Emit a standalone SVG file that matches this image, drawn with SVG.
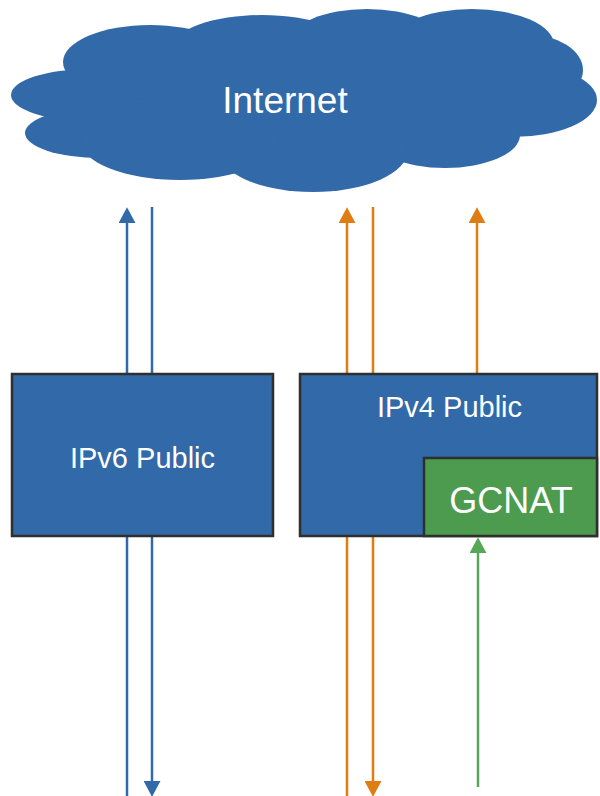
<svg xmlns="http://www.w3.org/2000/svg" width="600" height="796" viewBox="0 0 600 796">
  <style>
    .cloud { fill: #3169A9; }
    .box { fill: #3169A9; stroke: #2f2f2f; stroke-width: 2.5; }
    .nat { fill: #4C9B4E; stroke: #2f2f2f; stroke-width: 2.5; }
    .lbl { font-family: "Liberation Sans", Arial, sans-serif; fill: #ffffff; text-anchor: middle; }
    .blue { stroke: #3169A9; stroke-width: 2.5; fill: none; }
    .orange { stroke: #E07D12; stroke-width: 2.5; fill: none; }
    .green { stroke: #57A758; stroke-width: 2.5; fill: none; }
  </style>
  <defs>
    <marker id="ahBlue" markerUnits="userSpaceOnUse" markerWidth="17" markerHeight="17" viewBox="0 0 16 16" refX="1" refY="8" orient="auto">
      <path d="M0,0 L15,8 L0,16 Z" fill="#3169A9"/>
    </marker>
    <marker id="ahOrange" markerUnits="userSpaceOnUse" markerWidth="17" markerHeight="17" viewBox="0 0 16 16" refX="1" refY="8" orient="auto">
      <path d="M0,0 L15,8 L0,16 Z" fill="#E07D12"/>
    </marker>
    <marker id="ahGreen" markerUnits="userSpaceOnUse" markerWidth="17" markerHeight="17" viewBox="0 0 16 16" refX="1" refY="8" orient="auto">
      <path d="M0,0 L15,8 L0,16 Z" fill="#57A758"/>
    </marker>
  </defs>

  <g id="connectors">
    <line class="blue" x1="127" y1="796" x2="127" y2="222" marker-end="url(#ahBlue)"/>
    <line class="blue" x1="152" y1="207" x2="152" y2="782" marker-end="url(#ahBlue)"/>
    <line class="orange" x1="347" y1="796" x2="347" y2="222" marker-end="url(#ahOrange)"/>
    <line class="orange" x1="373" y1="207" x2="373" y2="782" marker-end="url(#ahOrange)"/>
    <line class="orange" x1="477" y1="374" x2="477" y2="222" marker-end="url(#ahOrange)"/>
    <line class="green" x1="478" y1="787" x2="478" y2="552" marker-end="url(#ahGreen)"/>
  </g>

  <g id="internet">
    <g class="cloud">
      <ellipse cx="300" cy="100" rx="240" ry="55"/>
      <ellipse cx="90" cy="95" rx="79" ry="26"/>
      <ellipse cx="100" cy="133" rx="75" ry="25"/>
      <ellipse cx="150" cy="62" rx="87" ry="37"/>
      <ellipse cx="262" cy="48" rx="90" ry="33"/>
      <ellipse cx="367" cy="43" rx="78" ry="34"/>
      <ellipse cx="472" cy="45" rx="82" ry="36"/>
      <ellipse cx="525" cy="70" rx="58" ry="36"/>
      <ellipse cx="512" cy="100" rx="85" ry="37"/>
      <ellipse cx="445" cy="135" rx="75" ry="33"/>
      <ellipse cx="313" cy="150" rx="95" ry="42"/>
      <ellipse cx="180" cy="140" rx="100" ry="40"/>
    </g>
    <text class="lbl" x="285" y="113" font-size="37">Internet</text>
  </g>

  <g id="ipv6">
    <rect class="box" x="12" y="374" width="261" height="162"/>
    <text class="lbl" x="142.5" y="468" font-size="29">IPv6 Public</text>
  </g>

  <g id="ipv4">
    <rect class="box" x="300" y="374" width="297" height="162"/>
    <text class="lbl" x="449.5" y="417" font-size="29">IPv4 Public</text>
  </g>

  <g id="gcnat">
    <rect class="nat" x="424" y="458" width="173" height="78"/>
    <text class="lbl" x="511" y="513" font-size="36">GCNAT</text>
  </g>
</svg>
